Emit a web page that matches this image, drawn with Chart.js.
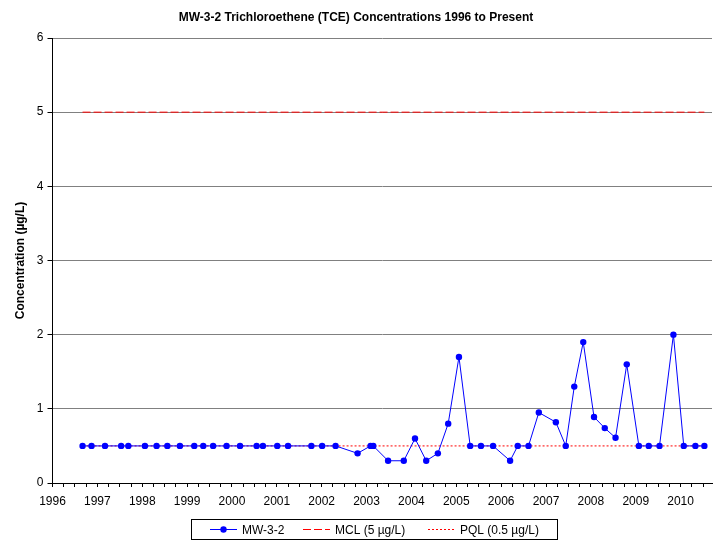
<!DOCTYPE html>
<html>
<head>
<meta charset="utf-8">
<script src="https://cdn.jsdelivr.net/npm/chart.js@4"></script>
<style>
  body { margin: 0; background: #fff; }
  #wrap { width: 713px; height: 540px; }
</style>
</head>
<body>
<div id="wrap"><canvas id="tce-chart" width="713" height="540"></canvas></div>
<script>
// Sample dates as decimal years
const sampleDates = [
    1996.67, 1996.87, 1997.17, 1997.53, 1997.69, 1998.06, 1998.32, 1998.56, 1998.84,
    1999.16, 1999.36, 1999.58, 1999.88, 2000.18, 2000.55, 2000.69, 2001.01, 2001.25,
    2001.77, 2002.01, 2002.31, 2002.80, 2003.09, 2003.15, 2003.48, 2003.83, 2004.08,
    2004.33, 2004.59, 2004.82, 2005.06, 2005.31, 2005.55, 2005.82, 2006.20, 2006.37,
    2006.61, 2006.84, 2007.22, 2007.44, 2007.63, 2007.83, 2008.07, 2008.31, 2008.55,
    2008.80, 2009.07, 2009.29, 2009.53, 2009.84, 2010.07, 2010.33, 2010.53
];
// TCE concentrations (ug/L)
const tceValues = [
    0.5, 0.5, 0.5, 0.5, 0.5, 0.5, 0.5, 0.5, 0.5,
    0.5, 0.5, 0.5, 0.5, 0.5, 0.5, 0.5, 0.5, 0.5,
    0.5, 0.5, 0.5, 0.4, 0.5, 0.5, 0.3, 0.3, 0.6,
    0.3, 0.4, 0.8, 1.7, 0.5, 0.5, 0.5, 0.3, 0.5,
    0.5, 0.95, 0.82, 0.5, 1.3, 1.9, 0.89, 0.74, 0.61,
    1.6, 0.5, 0.5, 0.5, 2.0, 0.5, 0.5, 0.5
];
const mclValue = 5;    // MCL limit
const pqlValue = 0.5;  // PQL limit
const yearTicks = [1996, 1997, 1998, 1999, 2000, 2001, 2002, 2003, 2004, 2005, 2006, 2007, 2008, 2009, 2010];
const yTicks = [0, 1, 2, 3, 4, 5, 6];

const FONT = "'Liberation Sans', Arial, sans-serif";
const seriesColors = ['#0000FF', '#FF0000', '#FF0000'];

const firstDate = sampleDates[0];
const lastDate = sampleDates[sampleDates.length - 1];

// Draws the boxed legend under the x axis like the Excel original
const boxLegend = {
    id: 'boxLegend',
    afterDraw(chart, args, opts) {
        const ctx = chart.ctx;
        ctx.save();
        ctx.strokeStyle = '#000';
        ctx.lineWidth = 1;
        ctx.strokeRect(opts.left + 0.5, opts.top + 0.5, opts.width, opts.height);
        const cy = Math.round(opts.top + opts.height / 2) + 0.5;
        ctx.font = '12px ' + FONT;
        ctx.textBaseline = 'middle';
        chart.data.datasets.forEach((ds, i) => {
            const x = opts.left + opts.offsets[i];
            ctx.strokeStyle = seriesColors[i];
            ctx.lineWidth = 1;
            ctx.setLineDash(ds.borderDash || []);
            ctx.beginPath();
            ctx.moveTo(x, cy);
            ctx.lineTo(x + opts.sample, cy);
            ctx.stroke();
            ctx.setLineDash([]);
            if (ds.pointRadius > 0) {
                ctx.fillStyle = seriesColors[i];
                ctx.beginPath();
                ctx.arc(x + opts.sample / 2, cy, ds.pointRadius, 0, Math.PI * 2);
                ctx.fill();
            }
            ctx.fillStyle = '#000';
            ctx.fillText(ds.label, x + opts.sample + 5, cy + 1);
        });
        ctx.restore();
    }
};

const ctx = document.getElementById('tce-chart').getContext('2d');

new Chart(ctx, {
    type: 'line',
    data: {
        datasets: [{
            label: 'MW-3-2',
            data: sampleDates.map((d, i) => ({ x: d, y: tceValues[i] })),
            borderColor: seriesColors[0],
            borderWidth: 1,
            pointRadius: 3.2,
            pointBackgroundColor: seriesColors[0],
            pointBorderWidth: 0,
            tension: 0
        }, {
            label: 'MCL (5 µg/L)',
            data: [{ x: firstDate, y: mclValue }, { x: lastDate, y: mclValue }],
            borderColor: seriesColors[1],
            borderWidth: 1,
            borderDash: [8, 3],
            pointRadius: 0
        }, {
            label: 'PQL (0.5 µg/L)',
            data: [{ x: firstDate, y: pqlValue }, { x: lastDate, y: pqlValue }],
            borderColor: seriesColors[2],
            borderWidth: 1,
            borderDash: [2, 2],
            pointRadius: 0
        }]
    },
    options: {
        responsive: false,
        animation: false,
        layout: { autoPadding: false, padding: { top: 0, left: 0, right: 1, bottom: 29 } },
        scales: {
            x: {
                type: 'linear',
                min: 1996,
                max: 2010.7,
                afterFit: s => {
                    s.height = 28;
                    s.paddingLeft = 0;
                    s.paddingRight = 0;
                },
                afterBuildTicks: s => {
                    const t = [];
                    for (let v = 1996; v <= 2010.7; v += 0.25) t.push({ value: v });
                    s.ticks = t;
                },
                ticks: {
                    autoSkip: false,
                    maxRotation: 0,
                    padding: 0,
                    color: '#000',
                    font: { family: FONT, size: 12, lineHeight: 2.5 },
                    callback: v => yearTicks.includes(v) ? String(v) : ''
                },
                grid: {
                    drawOnChartArea: false,
                    tickLength: 4,
                    tickColor: '#000'
                },
                border: { color: '#000', width: 1 }
            },
            y: {
                min: 0,
                max: 6,
                afterFit: s => { s.width = 52.5; },
                afterBuildTicks: s => { s.ticks = yTicks.map(v => ({ value: v })); },
                ticks: {
                    padding: 4,
                    color: '#000',
                    font: { family: FONT, size: 12 }
                },
                grid: {
                    color: '#808080',
                    tickColor: '#000',
                    tickLength: 5
                },
                border: { color: '#000', width: 1 },
                title: {
                    display: true,
                    text: 'Concentration (µg/L)',
                    color: '#000',
                    font: { family: FONT, size: 12, weight: 'bold' },
                    padding: { top: 13, bottom: 0 }
                }
            }
        },
        plugins: {
            legend: { display: false },
            tooltip: { enabled: false },
            title: {
                display: true,
                text: 'MW-3-2 Trichloroethene (TCE) Concentrations 1996 to Present',
                color: '#000',
                font: { family: FONT, size: 12, weight: 'bold' },
                padding: { top: 10, bottom: 13.6 }
            },
            boxLegend: {
                left: 191,
                top: 519,
                width: 366,
                height: 20,
                sample: 27,
                offsets: [19, 112, 237]
            }
        }
    },
    plugins: [boxLegend]
});
</script>
</body>
</html>
